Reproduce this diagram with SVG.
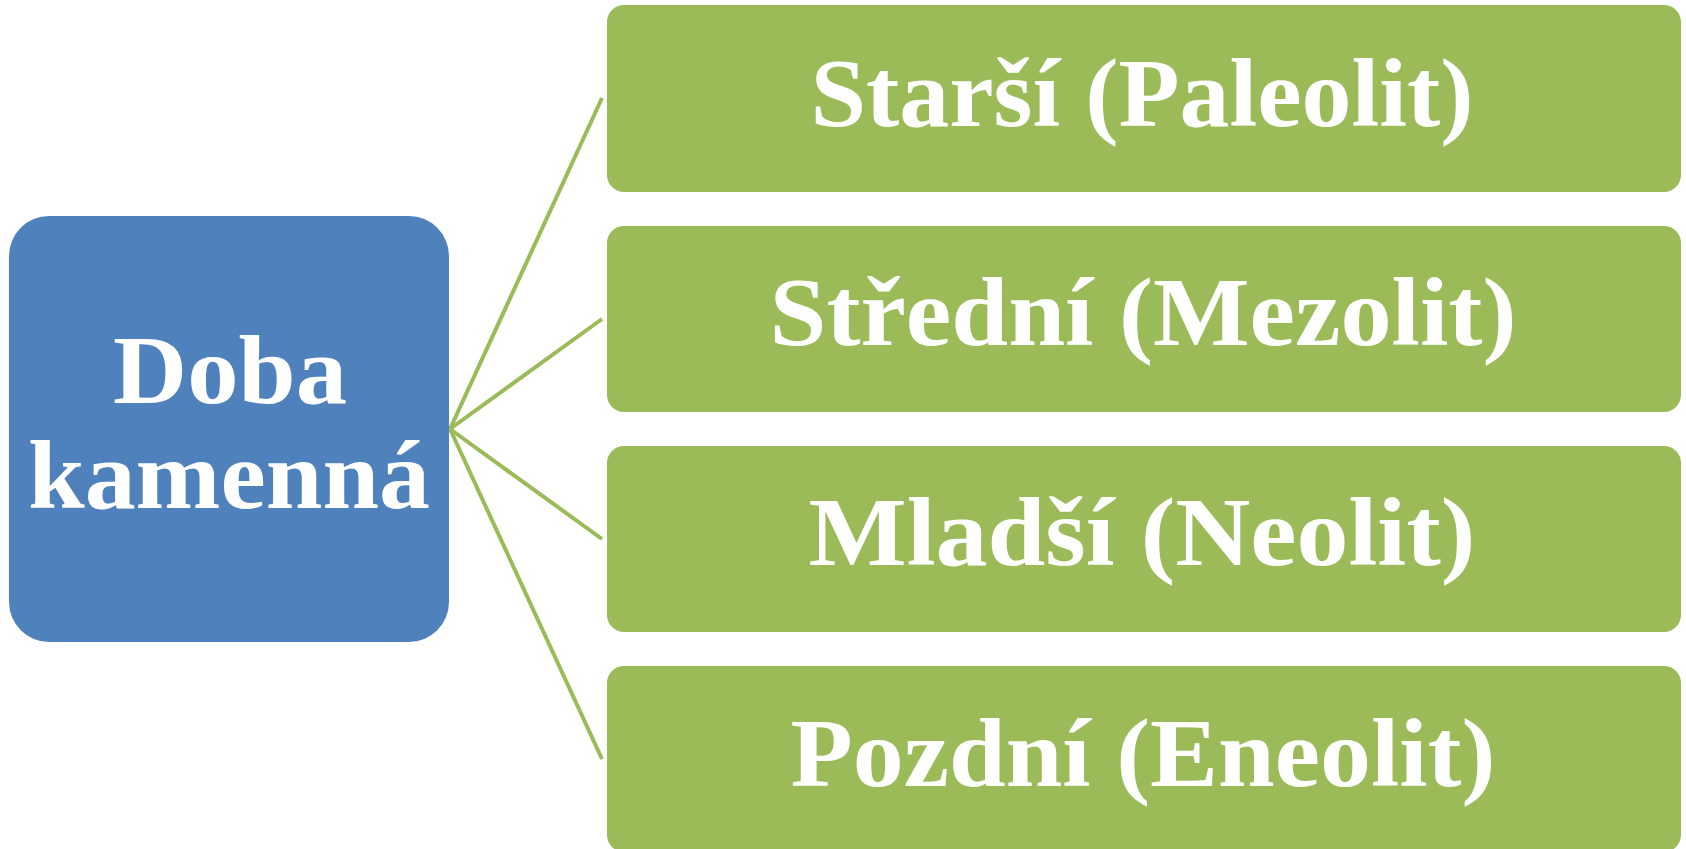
<svg xmlns="http://www.w3.org/2000/svg" width="1686" height="849" viewBox="0 0 1686 849">
<style>
.root{fill:#4F81BD}
.child{fill:#9BBB59}
.lbl{fill:#FFFFFF;font-family:"Liberation Serif","DejaVu Serif",serif;font-weight:bold;font-size:98px;text-anchor:middle}
.conn{stroke:#9BBB59;stroke-width:4;fill:none}
</style>
<rect width="1686" height="849" fill="#FFFFFF"/>
<g id="connectors">
<line class="conn" x1="450" y1="429" x2="602" y2="98"/>
<line class="conn" x1="450" y1="429" x2="602" y2="319"/>
<line class="conn" x1="450" y1="429" x2="602" y2="539"/>
<line class="conn" x1="450" y1="429" x2="602" y2="759"/>
</g>
<g id="node-root">
<rect class="root" x="9" y="216" width="440" height="426" rx="40" ry="40"/>
<text class="lbl" x="230" y="403" textLength="234" lengthAdjust="spacingAndGlyphs">Doba</text>
<text class="lbl" x="229" y="508" textLength="402" lengthAdjust="spacingAndGlyphs">kamenná</text>
</g>
<g id="node-paleolit">
<rect class="child" x="607" y="5" width="1074" height="187" rx="17" ry="17"/>
<text class="lbl" x="1142" y="126" textLength="663" lengthAdjust="spacingAndGlyphs">Starší (Paleolit)</text>
</g>
<g id="node-mezolit">
<rect class="child" x="607" y="226" width="1074" height="186" rx="17" ry="17"/>
<text class="lbl" x="1143" y="345" textLength="747" lengthAdjust="spacingAndGlyphs">Střední (Mezolit)</text>
</g>
<g id="node-neolit">
<rect class="child" x="607" y="446" width="1074" height="186" rx="17" ry="17"/>
<text class="lbl" x="1142" y="565" textLength="667" lengthAdjust="spacingAndGlyphs">Mladší (Neolit)</text>
</g>
<g id="node-eneolit">
<rect class="child" x="607" y="666" width="1074" height="186" rx="17" ry="17"/>
<text class="lbl" x="1143" y="786" textLength="705" lengthAdjust="spacingAndGlyphs">Pozdní (Eneolit)</text>
</g>
</svg>
